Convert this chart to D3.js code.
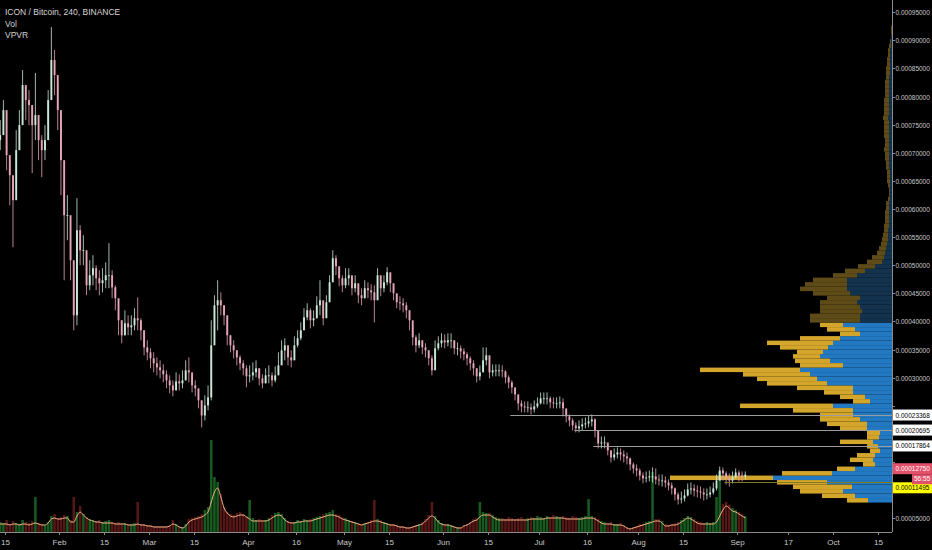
<!DOCTYPE html>
<html><head><meta charset="utf-8">
<script src="https://cdn.jsdelivr.net/npm/d3@7"></script>
<style>html,body{margin:0;padding:0;background:#000;}svg{display:block;}</style>
</head><body>
<svg id="chart" width="932" height="550"></svg>
<script>
// ---------------- DATA ----------------
// Daily candles (prices in satoshi = 1e-8 BTC), first day 2018-01-13
const startDay = "2018-01-13";
const firstOpen = 72250;
const closes = [73140,77590,69580,66020,61570,70470,74920,82040,79370,78480,
74920,76700,72250,70470,72250,79370,86490,83820,77590,68690,
58900,58900,50890,41100,56230,52670,52670,46440,48220,49470,
47690,46800,47330,48220,48220,46080,44130,40210,37540,39680,
38960,39320,40570,40210,38430,35400,34510,33450,32560,31840,
31310,30600,29530,28640,27750,29350,29000,29530,31310,30950,
28640,28110,25970,23300,25080,26500,35760,42880,43770,42880,
41100,37540,35760,34870,33620,32560,31670,30240,30420,30950,
31670,29890,29000,30420,30420,29530,30420,32200,34870,35760,
33620,33090,35760,37010,38430,40740,41990,40210,40570,42880,
43770,40570,43410,46970,51250,49820,47690,46440,47690,48220,
45910,46800,44660,44130,45910,45550,45190,43770,48220,45910,
46970,48750,46800,45020,43410,43240,42880,41990,40210,37180,
35760,36650,35400,34870,33450,31310,35230,36120,36650,36290,
36650,36650,35230,35230,34690,34160,33450,32560,31670,30240,
30950,33090,33980,30950,31310,31310,31310,31130,30060,29170,
28280,27040,25440,24900,24720,24720,24370,24900,25440,26330,
26330,26330,25610,25440,25440,25610,24550,23120,22410,21520,
20990,21340,21700,21880,22230,22590,20630,18320,18490,18490,
17070,15820,16360,16710,16360,16000,15650,14580,13870,13510,
12620,12090,12260,12440,12440,11910,11730,11730,11370,10840,
10310,9240,8350,8530,9060,10130,10310,9950,9770,9590,
9240,9240,9590,10310,11730,13510,12980,12090,11730,12260,
13150,12620,12440,12750];
const highs = [75810,79370,72250,68690,65130,74030,77590,84710,82040,81150,
78480,84180,74920,73140,74920,81150,92360,88270,82040,75810,
63350,62460,54450,47330,61930,57120,55340,50890,50890,51780,
50000,49110,49470,50530,53920,49110,46440,43770,40210,41990,
41100,41100,42350,44300,40570,38430,36650,35230,34510,33620,
33090,32380,31310,30420,29530,30950,30600,31310,33090,33620,
30420,29530,27750,25970,26860,28640,40210,44660,47330,45190,
42880,40210,37540,36650,34870,33980,33090,32200,32200,32730,
33090,31670,30600,31670,32200,30950,32020,34510,36650,37010,
35230,34870,37360,38430,39850,42350,43240,42350,41990,44480,
47330,42880,44660,48220,52670,51780,49470,48220,49470,49470,
47690,48220,46440,45910,47330,46970,46620,46440,49470,47330,
48220,49640,48220,46440,44660,44480,44130,43410,41990,39320,
37540,37900,36650,36120,34870,33980,36650,37360,37900,37720,
37900,37900,36650,36290,35760,35230,34510,33800,33090,31670,
32200,35400,35400,32730,32380,32380,32380,32200,31310,30420,
29530,28110,26680,25970,25790,25790,25440,25970,26500,27390,
27390,27390,26680,26500,26500,26680,26330,24190,23480,22770,
22050,22410,22770,22940,23300,23480,22770,19740,19560,19560,
18320,17070,17430,17600,17430,17070,16710,15820,14930,14580,
13870,13150,13330,13510,14040,13870,12800,12800,12440,11910,
11370,10480,9590,9770,10130,11200,11370,11020,10840,10660,
10310,10310,10660,11370,12800,14220,14040,13330,12980,13330,
13870,13510,13330,13330];
const lows = [70470,74030,66910,60680,53200,63350,72250,77590,75810,74920,
66380,72250,68690,65660,68690,74920,82040,80260,74030,62460,
47330,54450,47330,38430,39320,50000,50000,44660,45550,46440,
45550,44660,45190,45910,45910,44130,41990,37540,36120,37540,
37540,37540,38430,38430,36650,33980,33090,31670,30950,30420,
29890,29170,28110,27220,26680,27750,27750,28110,29530,29170,
27390,26680,24550,21160,22410,24190,25970,38430,38430,41100,
39320,35760,34510,33450,32200,31310,30420,28280,29170,29530,
30060,28640,28110,29000,29000,28460,29170,30950,33090,33090,
32200,31840,33980,35400,36650,38790,40210,38790,39140,40570,
41100,39320,41100,44130,48220,48220,46260,45190,45910,46440,
44660,45190,43240,42880,44130,44130,43770,39850,45550,44480,
45190,46440,45190,43770,42350,41990,41630,40570,38430,35760,
34510,35230,34160,33620,32200,30420,33450,34870,35400,35230,
35580,35230,34160,33980,33450,33090,32200,31310,30420,29170,
29530,31310,32200,29890,30240,30240,30240,30060,29000,28110,
27220,25970,24190,23830,23830,23830,23480,23830,24550,25260,
25260,25260,24550,24550,24550,24550,23120,22050,21340,20630,
20270,20270,20630,20990,21160,21340,19380,17430,17430,17430,
16180,14930,15290,15650,15290,14930,14580,13510,12980,12440,
11730,11200,11370,11550,11370,11020,10840,10660,10480,9950,
9240,8170,7460,7640,7990,8880,9240,8880,8700,8530,
8170,8350,8700,9240,9950,11730,11730,11020,10660,11200,
12090,11550,11550,11910];
// daily volume (arbitrary units) and its moving average
const volume = [10,9,12,8,11,9,8,12,10,9,
11,35,9,8,7,10,16,18,14,15,
17,16,12,35,20,26,18,15,13,12,
11,12,10,11,12,10,9,10,9,9,
8,8,9,30,8,8,7,7,6,6,
6,6,6,7,12,8,6,5,8,13,
14,15,16,18,22,25,92,55,50,38,
25,20,18,17,19,20,18,16,32,14,
12,13,12,12,14,17,19,20,18,14,
11,10,10,12,11,13,12,13,14,15,
16,18,19,20,22,18,17,15,14,12,
11,10,9,8,9,10,12,32,13,12,
10,9,8,8,7,6,6,5,5,6,
7,8,10,13,17,30,16,12,9,8,
8,7,6,5,5,7,8,10,13,14,
30,20,19,19,17,15,14,14,13,15,
14,13,14,15,13,14,15,14,16,15,
14,16,15,17,16,15,16,15,14,16,
15,14,15,16,33,16,15,13,11,10,
9,10,8,8,9,7,5,4,5,6,
8,8,10,11,60,13,13,11,8,7,
8,9,10,12,14,16,15,13,11,10,
9,10,9,10,35,60,28,30,27,24,
22,20,18,16];
const volumeMA = [8,8,8,7,8,8,7,8,8,7,
8,9,8,7,7,9,13,14,13,13,
14,14,10,10,16,20,17,14,12,11,
10,10,9,9,9,9,8,8,8,8,
7,7,7,8,7,7,6,6,5,5,
5,5,5,6,8,7,5,4,6,10,
12,13,14,15,17,20,30,40,44,35,
24,19,16,15,16,17,17,15,13,11,
11,11,11,11,12,14,16,17,16,12,
10,9,9,10,10,11,11,11,12,13,
14,15,16,17,17,16,15,13,12,11,
10,9,8,7,8,9,10,11,11,10,
9,8,7,7,6,5,5,4,4,5,
6,7,8,11,14,16,14,10,8,7,
7,6,5,4,4,6,7,9,11,12,
15,17,17,17,15,13,12,12,12,12,
12,12,12,12,12,12,13,13,13,13,
13,14,14,14,14,14,14,13,13,13,
13,13,13,14,14,14,13,11,9,8,
8,8,7,7,7,6,4,3,4,5,
6,7,8,9,10,11,11,9,6,6,
7,7,8,10,12,14,13,11,9,8,
8,8,8,8,10,16,22,26,24,21,
20,18,16,14];
// Volume profile (VPVR): rows of 800 sats starting at 7800 sats
const vpBase = 7800, vpStep = 800;
const vpUp = [24,37,49,40,65,119,60,37,17,19,
17,12,14,19,13,12,25,25,32,39,
39,59,22,27,39,39,65,75,82,92,
49,62,72,69,64,59,52,32,37,49,
32,32,30,32,35,32,42,45,45,45,
35,27,17,10,8,7,6,5,4,4,
4,3,3,3,3,3,3,2,2,2,
2,2,2,2,3,3,3,3,3,3,
3,3,3,3,3,4,3,3,3,3,
3,3,3,3,3,2,2,2,2,2,
2,1,1,1,0,0];
const vpDown = [21,33,43,59,50,103,50,18,12,23,
18,10,11,33,12,13,27,40,40,33,
60,93,17,25,29,56,60,60,67,100,
43,35,27,26,48,66,40,20,28,23,
50,50,42,40,37,33,37,47,42,34,
24,20,17,15,12,8,7,6,6,5,
4,5,4,4,4,3,3,2,1,1,
2,3,3,3,3,3,4,4,5,4,
4,5,5,5,5,5,5,5,5,5,
4,4,4,4,3,4,4,3,3,2,
2,2,1,0,1,1];
const valueAreaLow = 7800, valueAreaHigh = 39800;
// axes
const timeTicks = ["2018-01-15","2018-02-01","2018-02-15","2018-03-01","2018-03-15","2018-04-01","2018-04-16","2018-05-01","2018-05-15","2018-06-01","2018-06-15","2018-07-01","2018-07-16","2018-08-01","2018-08-15","2018-09-01","2018-09-17","2018-10-01","2018-10-15"];
const timeLabels = ["15","Feb","15","Mar","15","Apr","16","May","15","Jun","15","Jul","16","Aug","15","Sep","17","Oct","15"];
const priceTicks = [5000,10000,15000,20000,25000,30000,35000,40000,45000,50000,55000,60000,65000,70000,75000,80000,85000,90000,95000];
// horizontal level lines
const levels = [
  {price:23368, from:"2018-06-22", kind:"gray"},
  {price:20695, from:"2018-07-12", kind:"gray"},
  {price:17864, from:"2018-07-18", kind:"gray"},
  {price:11495, from:"2018-08-28", kind:"yellow"}
];
const lastPrice = 12750, countdown = "56:55";
const legend = ["ICON / Bitcoin, 240, BINANCE","Vol","VPVR"];

// ---------------- DRAW ----------------
const W = 932, H = 550, plotR = 892, plotB = 532;
const svg = d3.select("#chart");
const parse = d3.utcParse("%Y-%m-%d");
const x = d3.scaleUtc().domain([parse("2018-01-15"), parse("2018-10-15")]).range([5, 878]);
const y = d3.scaleLinear().domain([5000, 95000]).range([518.3, 12.2]);
const vy = d3.scaleLinear().domain([0, 100]).range([plotB, plotB - 100]);
const dayW = x(parse("2018-01-16")) - x(parse("2018-01-15"));
const fmt = v => (v / 1e8).toFixed(8);
const font = "'Liberation Sans', Arial, sans-serif";
const axFont = 6.5;

svg.append("rect").attr("width", W).attr("height", H).attr("fill", "#000");
svg.append("defs").append("clipPath").attr("id", "plot")
  .append("rect").attr("x", 0).attr("y", 0).attr("width", plotR).attr("height", plotB);
const g = svg.append("g").attr("clip-path", "url(#plot)");

const t0 = parse(startDay);
const days = closes.map((c, i) => {
  const d = d3.utcHour.offset(d3.utcDay.offset(t0, i), 12);
  const o = i === 0 ? firstOpen : closes[i - 1];
  return {d, o, h: highs[i], l: lows[i], c, v: volume[i], ma: volumeMA[i], up: c >= o};
});

// volume bars
g.append("g").selectAll("rect").data(days).join("rect")
  .attr("x", d => x(d.d) - dayW * 0.4)
  .attr("width", dayW * 0.8)
  .attr("y", d => vy(d.v))
  .attr("height", d => plotB - vy(d.v))
  .attr("fill", d => d.up ? "#1a6524" : "#621a1a")
  .attr("opacity", 0.9);
// volume MA
g.append("path").datum(days)
  .attr("d", d3.line().x(d => x(d.d)).y(d => vy(d.ma)).curve(d3.curveMonotoneX))
  .attr("fill", "none").attr("stroke", "#f0b584").attr("stroke-width", 1);

// VPVR
const vpRows = vpUp.map((u, i) => ({lo: vpBase + i * vpStep, hi: vpBase + (i + 1) * vpStep, up: u, dn: vpDown[i]}));
const vpW = d3.scaleLinear().domain([0, d3.max(vpRows, r => r.up + r.dn)]).range([0, 222]);
const inVA = r => r.lo >= valueAreaLow && r.hi <= valueAreaHigh;
const vg = g.append("g");
vg.selectAll("rect.up").data(vpRows).join("rect").attr("class", "up")
  .attr("x", r => plotR - vpW(r.up)).attr("width", r => vpW(r.up))
  .attr("y", r => y(r.hi)).attr("height", r => y(r.lo) - y(r.hi))
  .attr("fill", r => inVA(r) ? "#2279c2" : "#13324e");
vg.selectAll("rect.dn").data(vpRows).join("rect").attr("class", "dn")
  .attr("x", r => plotR - vpW(r.up + r.dn)).attr("width", r => vpW(r.dn))
  .attr("y", r => y(r.hi)).attr("height", r => y(r.lo) - y(r.hi))
  .attr("fill", r => inVA(r) ? "#d3a52b" : "#5e4b17");

// candles
const cg = g.append("g");
cg.selectAll("line").data(days).join("line")
  .attr("x1", d => x(d.d)).attr("x2", d => x(d.d))
  .attr("y1", d => y(d.h)).attr("y2", d => y(d.l))
  .attr("stroke", d => d.up ? "#c9e7d8" : "#e6a4b8").attr("stroke-width", 0.8);
cg.selectAll("rect").data(days).join("rect")
  .attr("x", d => x(d.d) - dayW * 0.3).attr("width", dayW * 0.6)
  .attr("y", d => y(Math.max(d.o, d.c)))
  .attr("height", d => Math.max(0.8, Math.abs(y(d.o) - y(d.c))))
  .attr("fill", d => d.up ? "#c9e7d8" : "#e6a4b8");

// level lines
g.append("g").selectAll("line").data(levels).join("line")
  .attr("x1", d => x(parse(d.from))).attr("x2", plotR)
  .attr("y1", d => Math.round(y(d.price)) + 0.5).attr("y2", d => Math.round(y(d.price)) + 0.5)
  .attr("stroke", d => d.kind === "gray" ? "#9b9b9b" : "#7f7a1e").attr("stroke-width", 1.2);

// axes lines
svg.append("line").attr("x1", plotR + 0.5).attr("x2", plotR + 0.5).attr("y1", 0).attr("y2", plotB)
  .attr("stroke", "#8c8c8c");
svg.append("line").attr("x1", 0).attr("x2", plotR).attr("y1", plotB + 0.5).attr("y2", plotB + 0.5)
  .attr("stroke", "#8c8c8c");

// axis label boxes (marker labels on the price scale)
const ly = y(lastPrice);
const boxes = [];
levels.filter(l => l.kind === "gray").forEach(l => boxes.push({cy: y(l.price), txt: fmt(l.price), bg: "#ffffff", fg: "#000"}));
boxes.push({cy: ly - 6, txt: fmt(lastPrice), bg: "#e3506a", fg: "#fff"});
boxes.push({cy: y(11495) + 6, txt: fmt(11495), bg: "#ffff00", fg: "#000"});

const labelText = (sel, xx, yy, txt, fill) => sel.append("text").attr("x", xx).attr("y", yy).text(txt)
  .attr("fill", fill).attr("font-size", axFont).attr("font-family", font);

const pa = svg.append("g");
priceTicks.forEach(v => {
  const yy = Math.round(y(v)) + 0.5;
  pa.append("line").attr("x1", plotR).attr("x2", plotR + 3).attr("y1", yy).attr("y2", yy).attr("stroke", "#8c8c8c");
  const covered = boxes.some(b => Math.abs(b.cy - yy) < 9) || (yy > ly - 2 && yy < ly + 18);
  if (!covered) labelText(pa, plotR + 3.5, yy + 2.4, fmt(v), "#c8c8c8");
});
const ta = svg.append("g");
timeTicks.forEach((t, i) => {
  const xx = Math.round(x(parse(t))) + 0.5;
  ta.append("line").attr("x1", xx).attr("x2", xx).attr("y1", plotB).attr("y2", plotB + 3).attr("stroke", "#8c8c8c");
  ta.append("text").attr("x", xx).attr("y", plotB + 13).attr("text-anchor", "middle").text(timeLabels[i])
    .attr("fill", "#c8c8c8").attr("font-size", 8).attr("font-family", font);
});

boxes.forEach(b => {
  svg.append("rect").attr("x", plotR + 1).attr("y", b.cy - 5.5).attr("width", W - plotR - 1).attr("height", 11).attr("fill", b.bg);
  labelText(svg, plotR + 3.5, b.cy + 2.5, b.txt, b.fg);
});
svg.append("rect").attr("x", 912).attr("y", ly - 0.5).attr("width", 20).attr("height", 10).attr("fill", "#e3506a");
svg.append("text").attr("x", 914).attr("y", ly + 6.5).text(countdown).attr("fill", "#fff")
  .attr("font-size", axFont).attr("font-family", font);

// legend
legend.forEach((t, i) => svg.append("text").attr("x", 5).attr("y", 15 + i * 11.7).text(t)
  .attr("fill", "#d4d4d4").attr("font-size", 8.5).attr("font-family", font));
</script>
</body></html>
